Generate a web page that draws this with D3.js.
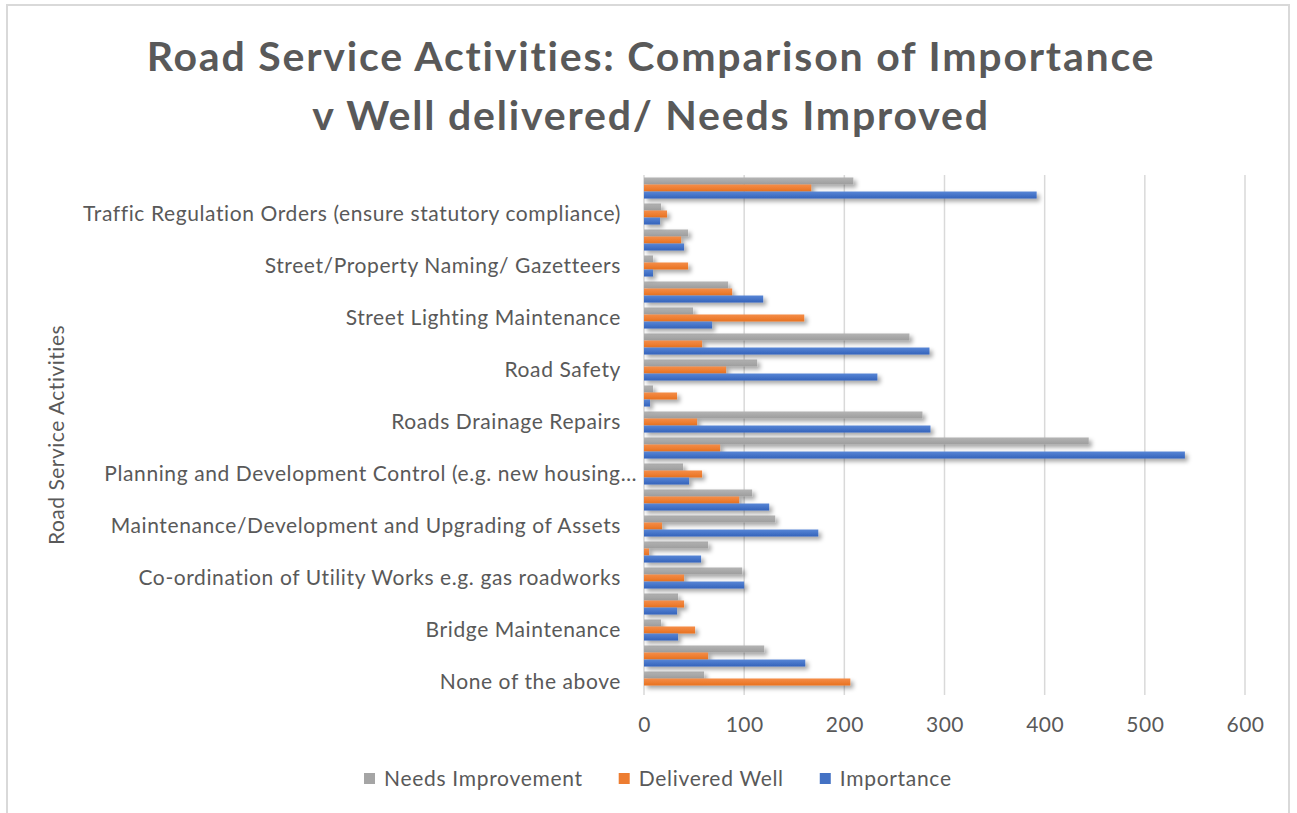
<!DOCTYPE html>
<html>
<head>
<meta charset="utf-8">
<script src="https://cdn.jsdelivr.net/npm/d3@7"></script>
<style>
  body { margin: 0; background: #fff; }
  text { font-family: Lato, "Open Sans", sans-serif; fill: #595959; }
</style>
</head>
<body>
<script>
// categories, bottom to top (only every other label is shown, as in the original)
var categories = [
  "None of the above", "",
  "Bridge Maintenance", "",
  "Co-ordination of Utility Works e.g. gas roadworks", "",
  "Maintenance/Development and Upgrading of Assets", "",
  "Planning and Development Control (e.g. new housing…", "",
  "Roads Drainage Repairs", "",
  "Road Safety", "",
  "Street Lighting Maintenance", "",
  "Street/Property Naming/ Gazetteers", "",
  "Traffic Regulation Orders (ensure statutory compliance)", ""
];

// series values, same order as categories
var importance     = [0, 161, 34, 33, 100, 57, 174, 125, 45, 540, 286, 6, 233, 285, 68, 119, 9, 40, 16, 392];
var deliveredWell  = [206, 64, 51, 40, 40, 5, 18, 95, 58, 76, 53, 33, 82, 58, 160, 88, 44, 37, 23, 167];
var needsImprove   = [60, 120, 17, 34, 98, 64, 131, 108, 39, 444, 278, 9, 113, 265, 49, 84, 9, 44, 17, 209];

var seriesNames = ["Needs Improvement", "Delivered Well", "Importance"];
var xTicks = [0, 100, 200, 300, 400, 500, 600];

var W = 1297, H = 813;
var svg = d3.select("body").append("svg")
    .attr("width", W)
    .attr("height", H);

var margin = {left: 644, right: 52, top: 175, bottom: 118};
var width = W - margin.left - margin.right;
var height = H - margin.top - margin.bottom;

//chart border
svg.append("rect")
    .attr("x", 7).attr("y", 5)
    .attr("width", 1282).attr("height", 830)
    .attr("fill", "none")
    .attr("stroke", "#d9d9d9")
    .attr("stroke-width", 2);

//defs: gradients + shadow
var defs = svg.append("defs");
var grads = [
  {id: "g-gray", top: "#b4b4b4", bot: "#9d9d9d"},
  {id: "g-orange", top: "#f58d48", bot: "#e8721f"},
  {id: "g-blue", top: "#5886d6", bot: "#3463bb"}
];
grads.forEach(function(g) {
  var lg = defs.append("linearGradient").attr("id", g.id)
      .attr("x1", 0).attr("y1", 0).attr("x2", 0).attr("y2", 1);
  lg.append("stop").attr("offset", "0%").attr("stop-color", g.top);
  lg.append("stop").attr("offset", "100%").attr("stop-color", g.bot);
});
var f = defs.append("filter").attr("id", "shadow")
    .attr("x", "-5%").attr("y", "-50%").attr("width", "120%").attr("height", "250%");
f.append("feDropShadow")
    .attr("dx", 3).attr("dy", 3).attr("stdDeviation", 2)
    .attr("flood-color", "#000").attr("flood-opacity", 0.35);

//title
svg.append("text")
    .attr("x", 651).attr("y", 71)
    .attr("text-anchor", "middle")
    .style("font-size", "41px").style("font-weight", "bold")
    .style("letter-spacing", "1.8px")
    .text("Road Service Activities: Comparison of Importance");
svg.append("text")
    .attr("x", 651).attr("y", 130)
    .attr("text-anchor", "middle")
    .style("font-size", "41px").style("font-weight", "bold")
    .style("letter-spacing", "1.8px")
    .text("v Well delivered/ Needs Improved");

var g = svg.append("g")
    .attr("transform", "translate(" + margin.left + "," + margin.top + ")");

//scales
var x = d3.scaleLinear().domain([0, 600]).range([0, width]);
var idx = d3.range(categories.length);
var y = d3.scaleBand()
    .domain(idx.slice().reverse())
    .range([0, height])
    .paddingInner(0.19)
    .paddingOuter(0.095);
var ySub = d3.scaleBand()
    .domain([0, 1, 2])
    .range([0, y.bandwidth()]);

//gridlines
g.append("g").selectAll("line")
    .data(xTicks)
    .enter().append("line")
    .attr("x1", function(d) { return x(d); })
    .attr("x2", function(d) { return x(d); })
    .attr("y1", 0).attr("y2", height)
    .attr("stroke", "#d9d9d9")
    .attr("stroke-width", 1.5);

//bars
var series = [
  {name: seriesNames[0], values: needsImprove, fill: "url(#g-gray)"},
  {name: seriesNames[1], values: deliveredWell, fill: "url(#g-orange)"},
  {name: seriesNames[2], values: importance, fill: "url(#g-blue)"}
];
series.forEach(function(s, si) {
  g.append("g").attr("filter", "url(#shadow)")
    .selectAll("rect")
    .data(idx)
    .enter().append("rect")
    .attr("x", x(0))
    .attr("y", function(i) { return y(i) + ySub(si); })
    .attr("width", function(i) { return x(s.values[i]) - x(0); })
    .attr("height", ySub.bandwidth())
    .attr("fill", s.fill);
});

// add y-axis
var yAxis = g.append("g")
    .call(d3.axisLeft(y)
      .tickValues(idx.filter(function(i) { return categories[i] !== ""; }))
      .tickFormat(function(i) { return categories[i]; })
      .tickSize(0)
      .tickPadding(23));
yAxis.select(".domain").remove();
yAxis.selectAll("text")
    .style("font-size", "21px")
    .style("letter-spacing", "0.6px")
    .attr("fill", "#595959");
// the truncated label runs past the others, as in excel
yAxis.selectAll("text")
    .filter(function(i) { return categories[i].indexOf("…") >= 0; })
    .attr("x", -7);

// add x-axis
var xAxis = g.append("g")
    .attr("transform", "translate(0," + height + ")")
    .call(d3.axisBottom(x).tickValues(xTicks).tickSize(0).tickPadding(22));
xAxis.select(".domain").remove();
xAxis.selectAll("text")
    .style("font-size", "21px")
    .style("letter-spacing", "0.5px")
    .attr("fill", "#595959");

//y-axis title
svg.append("text")
    .attr("transform", "rotate(-90)")
    .attr("x", -435).attr("y", 64)
    .attr("text-anchor", "middle")
    .style("font-size", "21px")
    .style("letter-spacing", "0.5px")
    .text("Road Service Activities");

//legend
var legendColors = ["#a5a5a5", "#ed7d31", "#4472c4"];
var legend = svg.append("g");
var lx = 364;
seriesNames.forEach(function(name, i) {
  legend.append("rect")
      .attr("x", lx).attr("y", 773)
      .attr("width", 11).attr("height", 11)
      .attr("fill", legendColors[i]);
  var t = legend.append("text")
      .attr("x", lx + 20).attr("y", 786)
      .style("font-size", "21px")
      .style("letter-spacing", "0.7px")
      .text(name);
  lx += 20 + t.node().getComputedTextLength() + 36;
});
</script>
</body>
</html>
